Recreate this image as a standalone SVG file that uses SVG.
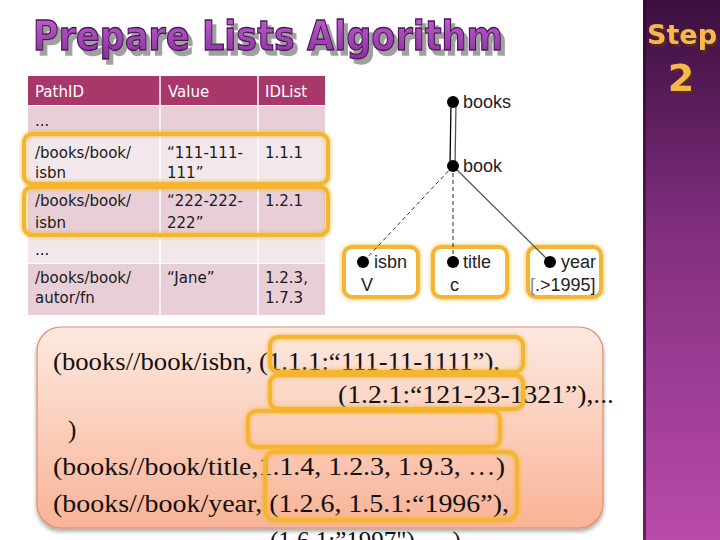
<svg xmlns="http://www.w3.org/2000/svg" width="720" height="540" viewBox="0 0 720 540">
<defs>
<linearGradient id="side" x1="0" y1="0" x2="0" y2="1">
<stop offset="0" stop-color="#3a0f3e"/>
<stop offset="0.45" stop-color="#843082"/>
<stop offset="1" stop-color="#b94aa9"/>
</linearGradient>
<linearGradient id="panel" x1="0" y1="0" x2="0" y2="1">
<stop offset="0" stop-color="#fde9e0"/>
<stop offset="1" stop-color="#f9b397"/>
</linearGradient>
<linearGradient id="titleFill" x1="0" y1="0" x2="0" y2="1">
<stop offset="0" stop-color="#c065d0"/>
<stop offset="1" stop-color="#8a2d9e"/>
</linearGradient>
<filter id="glow" x="-10%" y="-20%" width="120%" height="140%">
<feGaussianBlur in="SourceGraphic" stdDeviation="2.2" result="b"/>
<feMerge><feMergeNode in="b"/><feMergeNode in="SourceGraphic"/></feMerge>
</filter>
<filter id="shadow" x="-5%" y="-5%" width="110%" height="115%">
<feGaussianBlur in="SourceAlpha" stdDeviation="2"/>
<feOffset dx="0" dy="3" result="o"/>
<feComponentTransfer><feFuncA type="linear" slope="0.35"/></feComponentTransfer>
<feMerge><feMergeNode/><feMergeNode in="SourceGraphic"/></feMerge>
</filter>
<filter id="tshadow" x="-5%" y="-20%" width="110%" height="150%">
<feFlood flood-color="#a0a0a0"/>
<feComposite in2="SourceAlpha" operator="in"/>
<feOffset dx="4" dy="5" result="s"/>
<feMerge><feMergeNode in="s"/><feMergeNode in="SourceGraphic"/></feMerge>
</filter>
<filter id="sshadow" x="-10%" y="-20%" width="130%" height="150%">
<feFlood flood-color="#5a2a20" flood-opacity="0.8"/>
<feComposite in2="SourceAlpha" operator="in"/>
<feOffset dx="2" dy="3" result="s"/>
<feMerge><feMergeNode in="s"/><feMergeNode in="SourceGraphic"/></feMerge>
</filter>
</defs>
<style>
.hl{fill:none;stroke:#f4b632;stroke-width:4;filter:url(#glow)}
.box{fill:#fff;stroke:#f4b632;stroke-width:4;filter:url(#glow)}
.th{font-family:"DejaVu Sans",sans-serif;font-size:15px;fill:#fff}
.td{font-family:"DejaVu Sans",sans-serif;font-size:15px;fill:#1a1a1a}
.tr{font-family:"Liberation Sans",Arial,sans-serif;font-size:18px;fill:#222}
.mono{font-family:"Liberation Serif","Times New Roman",serif;font-size:25px;fill:#111}
.node{fill:#000}
</style>
<rect x="0" y="0" width="720" height="540" fill="#fff"/>

<!-- right band -->
<g id="sideband">
<rect x="643" y="0" width="77" height="540" fill="url(#side)"/>
<rect x="643" y="0" width="3" height="540" fill="#2a0a2a" opacity="0.6"/>
<text x="682" y="44" text-anchor="middle" font-family="DejaVu Sans,sans-serif" font-weight="bold" font-size="27" fill="#f8b84a" filter="url(#sshadow)">Step</text>
<text x="681" y="91" text-anchor="middle" font-family="DejaVu Sans,sans-serif" font-weight="bold" font-size="38" fill="#f8b84a" filter="url(#sshadow)">2</text>
</g>

<!-- title -->
<g id="title">
<text x="33" y="50" font-family="DejaVu Sans,sans-serif" font-weight="bold" font-size="40" textLength="470" lengthAdjust="spacingAndGlyphs" fill="url(#titleFill)" stroke="#4a1458" stroke-width="1.3" filter="url(#tshadow)">Prepare Lists Algorithm</text>
</g>

<!-- table -->
<g id="table">
<rect x="28" y="76" width="297" height="29" fill="#a8386a"/>
<rect x="28" y="106" width="297" height="27" fill="#e7ced7"/>
<rect x="28" y="134" width="297" height="52" fill="#f2e7eb"/>
<rect x="28" y="187" width="297" height="50" fill="#e7ced7"/>
<rect x="28" y="238" width="297" height="25" fill="#f2e7eb"/>
<rect x="28" y="264" width="297" height="51" fill="#e7ced7"/>
<line x1="160" y1="76" x2="160" y2="315" stroke="#fff" stroke-width="1.5"/>
<line x1="258" y1="76" x2="258" y2="315" stroke="#fff" stroke-width="1.5"/>
<text class="th" x="35" y="97">PathID</text>
<text class="th" x="168" y="97">Value</text>
<text class="th" x="265" y="97">IDList</text>
<text class="td" x="35" y="126">...</text>
<text class="td" x="35" y="158">/books/book/</text>
<text class="td" x="35" y="178">isbn</text>
<text class="td" x="167" y="158">“111-111-</text>
<text class="td" x="167" y="178">111”</text>
<text class="td" x="265" y="158">1.1.1</text>
<text class="td" x="35" y="206">/books/book/</text>
<text class="td" x="35" y="228">isbn</text>
<text class="td" x="167" y="206">“222-222-</text>
<text class="td" x="167" y="228">222”</text>
<text class="td" x="265" y="206">1.2.1</text>
<text class="td" x="35" y="255">...</text>
<text class="td" x="35" y="283">/books/book/</text>
<text class="td" x="35" y="303">autor/fn</text>
<text class="td" x="167" y="283">“Jane”</text>
<text class="td" x="265" y="283">1.2.3,</text>
<text class="td" x="265" y="303">1.7.3</text>
<rect class="hl" x="24" y="134" width="304" height="50" rx="8"/>
<rect class="hl" x="24" y="187" width="304" height="48" rx="8"/>
</g>

<!-- tree node boxes (drawn under connectors) -->
<rect class="box" x="344" y="247" width="74" height="50" rx="8"/>
<rect class="box" x="433" y="247" width="74" height="50" rx="8"/>
<rect class="box" x="528" y="247" width="73" height="50" rx="8"/>

<!-- tree connectors -->
<g id="connectors">
<line x1="451" y1="102" x2="450" y2="166" stroke="#000" stroke-width="1.3"/>
<line x1="456" y1="102" x2="455" y2="166" stroke="#555" stroke-width="1.3"/>
<line x1="453" y1="166" x2="363" y2="262" stroke="#333" stroke-width="1" stroke-dasharray="4,3"/>
<line x1="453" y1="166" x2="453" y2="262" stroke="#222" stroke-width="1" stroke-dasharray="4,3"/>
<line x1="453" y1="166" x2="550" y2="262" stroke="#555" stroke-width="1.3"/>
</g>

<!-- tree nodes -->
<g id="n-books">
<circle class="node" cx="453" cy="102" r="6"/>
<text class="tr" x="463" y="108">books</text>
</g>
<g id="n-book">
<circle class="node" cx="453" cy="166" r="6"/>
<text class="tr" x="463" y="172">book</text>
</g>
<g id="n-isbn">
<circle class="node" cx="363" cy="262" r="6"/>
<text class="tr" x="374" y="268">isbn</text>
<text class="tr" x="361" y="291">V</text>
</g>
<g id="n-title">
<circle class="node" cx="453" cy="262" r="6"/>
<text class="tr" x="463" y="268">title</text>
<text class="tr" x="450" y="291">c</text>
</g>
<g id="n-year">
<circle class="node" cx="550" cy="262" r="6"/>
<text class="tr" x="561" y="268">year</text>
<text class="tr" x="530" y="291"><tspan fill="#888">[</tspan>.&gt;1995]</text>
</g>

<!-- bottom panel -->
<g id="panel">
<rect x="37" y="327" width="566" height="201" rx="24" fill="url(#panel)" stroke="#d9906e" stroke-width="1.2" filter="url(#shadow)"/>
<text class="mono" x="53" y="370" textLength="447" lengthAdjust="spacingAndGlyphs">(books//book/isbn, (1.1.1:“111-11-1111”),</text>
<text class="mono" x="338" y="403" textLength="276" lengthAdjust="spacingAndGlyphs">(1.2.1:“121-23-1321”),...</text>
<text class="mono" x="68" y="438">)</text>
<text class="mono" x="53" y="475" textLength="452" lengthAdjust="spacingAndGlyphs">(books//book/title,1.1.4, 1.2.3, 1.9.3, …)</text>
<text class="mono" x="53" y="512" textLength="456" lengthAdjust="spacingAndGlyphs">(books//book/year, (1.2.6, 1.5.1:“1996”),</text>
<text class="mono" x="270" y="549">(1.6.1:”1997")    …    )</text>
<rect class="hl" x="270" y="337" width="253" height="35" rx="8"/>
<rect class="hl" x="270" y="375" width="253" height="34" rx="8"/>
<rect class="hl" x="248" y="411" width="252" height="36" rx="8"/>
<rect class="hl" x="265" y="452" width="252" height="68" rx="10"/>
</g>
</svg>
